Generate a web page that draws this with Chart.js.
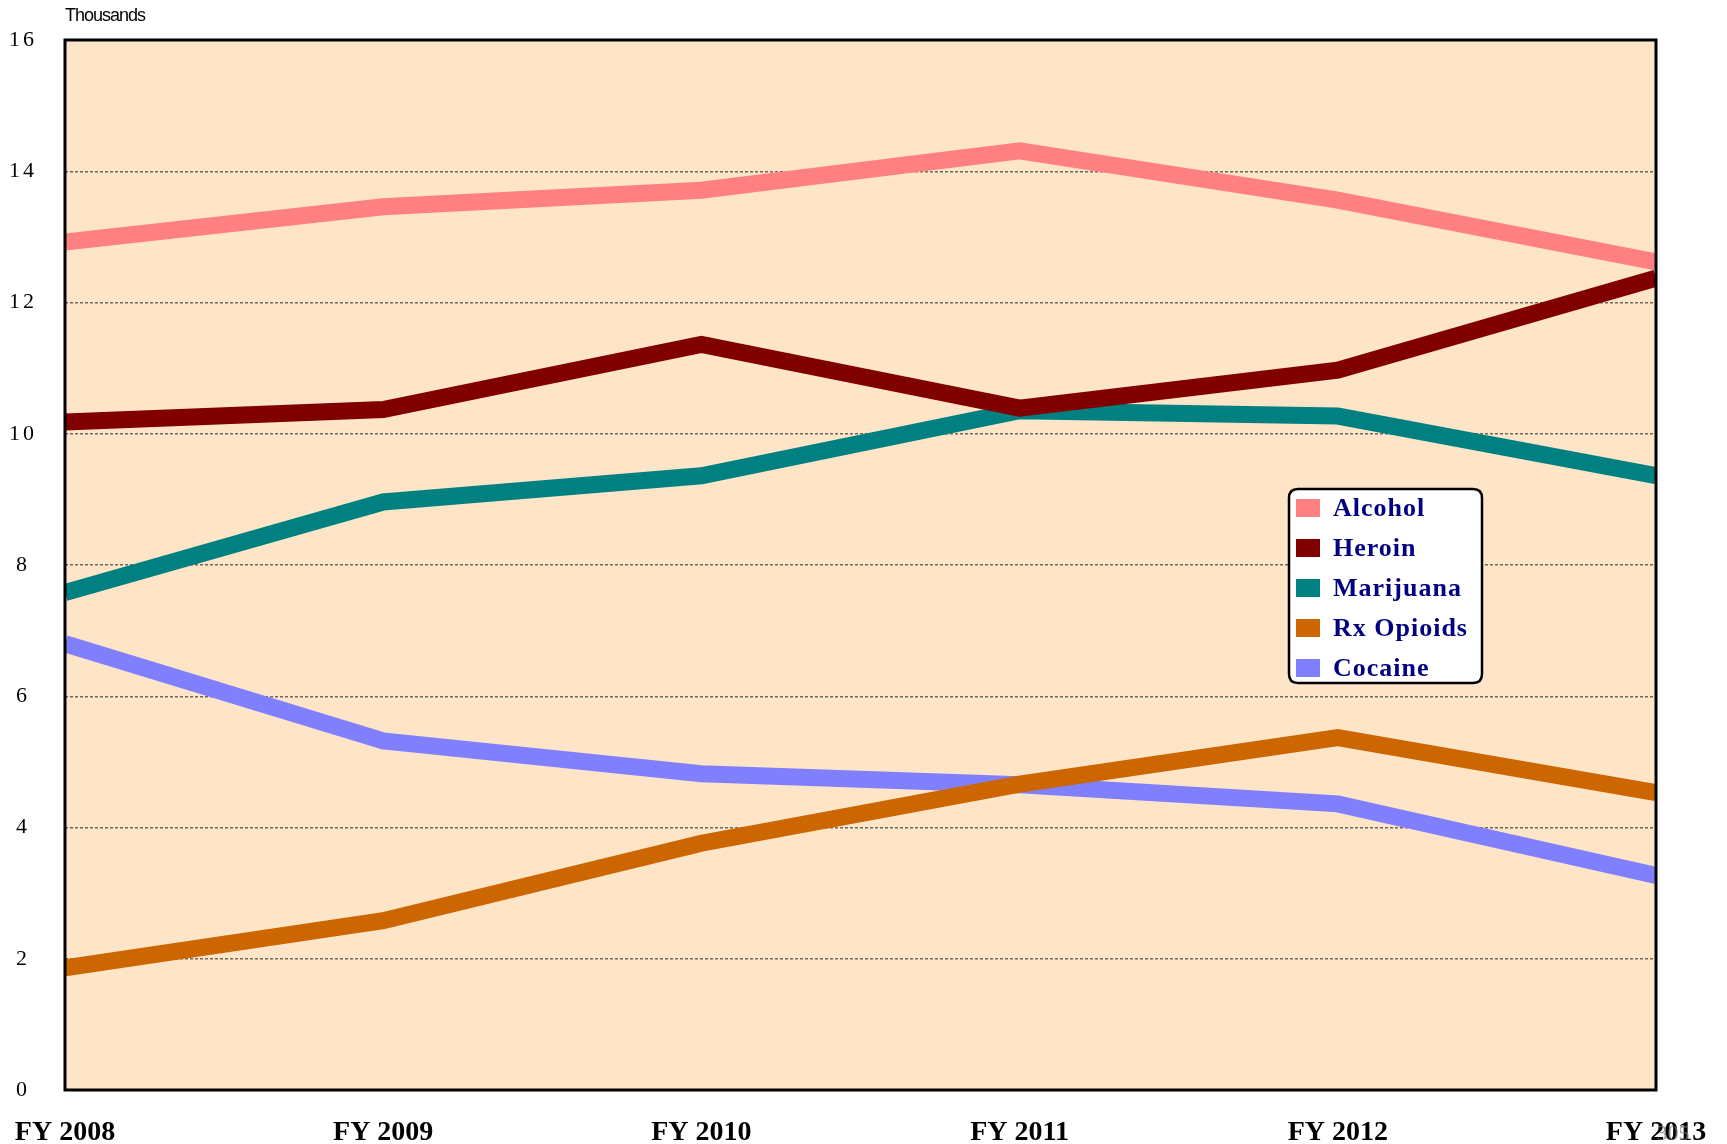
<!DOCTYPE html>
<html>
<head>
<meta charset="utf-8">
<title>Treatment admissions by substance</title>
<script src="https://cdn.jsdelivr.net/npm/chart.js@4.4.1/dist/chart.umd.min.js"></script>
<style>
    html, body {
        margin: 0;
        padding: 0;
        background: #ffffff;
    }
    #wrap {
        width: 1727px;
        height: 1144px;
    }
</style>
</head>
<body>
<div id="wrap">
    <canvas id="substanceChart" width="1727" height="1144"></canvas>
</div>
<script>
    const years = ['FY 2008', 'FY 2009', 'FY 2010', 'FY 2011', 'FY 2012', 'FY 2013'];

    // values in thousands
    const alcohol = [12.92, 13.46, 13.71, 14.31, 13.56, 12.62];
    const heroin = [10.18, 10.37, 11.36, 10.39, 10.97, 12.37];
    const marijuana = [7.58, 8.96, 9.36, 10.35, 10.27, 9.36];
    const rxOpioids = [1.86, 2.58, 3.76, 4.66, 5.37, 4.53];
    const cocaine = [6.80, 5.32, 4.82, 4.65, 4.36, 3.27];

    const yTicks = [0, 2, 4, 6, 8, 10, 12, 14, 16];

    const seriesNames = ['Alcohol', 'Heroin', 'Marijuana', 'Rx Opioids', 'Cocaine'];
    const seriesColors = ['#FF8080', '#800000', '#008080', '#CC6600', '#8080FF'];
    const seriesValues = [alcohol, heroin, marijuana, rxOpioids, cocaine];
    // lower order is painted on top
    const seriesOrder = [2, 0, 3, 1, 4];

    const plotBackground = {
        id: 'plotBackground',
        beforeDraw(chart) {
            const { ctx, chartArea } = chart;
            ctx.save();
            ctx.fillStyle = '#FFE5C8';
            ctx.fillRect(chartArea.left, chartArea.top,
                chartArea.right - chartArea.left, chartArea.bottom - chartArea.top);
            ctx.restore();
            // spaced digits on the value axis
            ctx.letterSpacing = '3px';
        },
        beforeDatasetsDraw(chart) {
            chart.ctx.letterSpacing = '0px';
        },
        afterDatasetsDraw(chart) {
            const { ctx, chartArea } = chart;
            ctx.save();
            ctx.strokeStyle = '#000000';
            ctx.lineWidth = 3;
            ctx.strokeRect(chartArea.left, chartArea.top,
                chartArea.right - chartArea.left, chartArea.bottom - chartArea.top);
            ctx.restore();
        },
    };

    function roundRect(ctx, x, y, w, h, r) {
        ctx.beginPath();
        ctx.moveTo(x + r, y);
        ctx.lineTo(x + w - r, y);
        ctx.quadraticCurveTo(x + w, y, x + w, y + r);
        ctx.lineTo(x + w, y + h - r);
        ctx.quadraticCurveTo(x + w, y + h, x + w - r, y + h);
        ctx.lineTo(x + r, y + h);
        ctx.quadraticCurveTo(x, y + h, x, y + h - r);
        ctx.lineTo(x, y + r);
        ctx.quadraticCurveTo(x, y, x + r, y);
        ctx.closePath();
    }

    const boxLegend = {
        id: 'boxLegend',
        afterDraw(chart) {
            const { ctx, chartArea } = chart;
            const boxX = chartArea.right - 367;
            const boxY = chartArea.top + 449;

            ctx.save();

            // units caption
            ctx.font = '18px "Liberation Sans", Arial, sans-serif';
            ctx.letterSpacing = '-1px';
            ctx.fillStyle = '#000000';
            ctx.textBaseline = 'middle';
            ctx.textAlign = 'left';
            ctx.fillText('Thousands', chartArea.left, 16);

            // legend box
            roundRect(ctx, boxX, boxY, 193, 194, 9);
            ctx.fillStyle = '#ffffff';
            ctx.fill();
            ctx.lineWidth = 2.5;
            ctx.strokeStyle = '#000000';
            ctx.stroke();

            ctx.font = 'bold 26px "Liberation Serif", "Times New Roman", serif';
            ctx.letterSpacing = '1px';
            chart.data.datasets.forEach((ds, i) => {
                const cy = boxY + 19 + i * 40;
                ctx.fillStyle = ds.borderColor;
                ctx.fillRect(boxX + 7, cy - 9, 24, 18);
                ctx.fillStyle = '#000080';
                ctx.fillText(ds.label, boxX + 44, cy + 1);
            });

            // faint page number behind the last year label
            ctx.font = '22px "Liberation Serif", serif';
            ctx.letterSpacing = '0px';
            ctx.fillStyle = 'rgba(120,120,120,0.75)';
            ctx.textAlign = 'center';
            ctx.fillText('305', chartArea.right + 17, 1134);
            ctx.restore();
        },
    };

    const datasets = seriesNames.map((name, i) => ({
        label: name,
        data: seriesValues[i],
        borderColor: seriesColors[i],
        backgroundColor: seriesColors[i],
        borderWidth: 17,
        pointRadius: 0,
        tension: 0,
        fill: false,
        clip: 0,
        order: seriesOrder[i],
        borderJoinStyle: 'miter',
        borderCapStyle: 'butt',
    }));

    const ctx = document.getElementById('substanceChart').getContext('2d');

    new Chart(ctx, {
        type: 'line',
        data: {
            labels: years,
            datasets,
        },
        options: {
            responsive: false,
            animation: false,
            layout: {
                padding: { top: 40, right: 71, bottom: 0, left: 0 },
            },
            plugins: {
                legend: { display: false },
                tooltip: { enabled: false },
            },
            scales: {
                x: {
                    offset: false,
                    grid: { display: false, drawTicks: false },
                    border: { display: false },
                    ticks: {
                        z: 1,
                        autoSkip: false,
                        maxRotation: 0,
                        padding: 26,
                        color: '#000000',
                        font: {
                            family: '"Liberation Serif", "Times New Roman", serif',
                            size: 28,
                            weight: 'bold',
                        },
                    },
                    afterFit(scale) {
                        scale.height = 54;
                        scale.paddingLeft = 0;
                        scale.paddingRight = 0;
                    },
                },
                y: {
                    min: 0,
                    max: 16,
                    afterBuildTicks(scale) {
                        scale.ticks = yTicks.map((v) => ({ value: v }));
                    },
                    grid: {
                        color: 'rgba(60,60,60,0.75)',
                        lineWidth: 1.5,
                        drawTicks: false,
                    },
                    border: { display: false, dash: [3, 2] },
                    ticks: {
                        crossAlign: 'center',
                        padding: 31,
                        color: '#000000',
                        font: {
                            family: '"Liberation Serif", "Times New Roman", serif',
                            size: 22,
                        },
                    },
                    afterFit(scale) {
                        scale.width = 65;
                        scale.paddingTop = 0;
                        scale.paddingBottom = 0;
                    },
                },
            },
        },
        plugins: [plotBackground, boxLegend],
    });
</script>
</body>
</html>
